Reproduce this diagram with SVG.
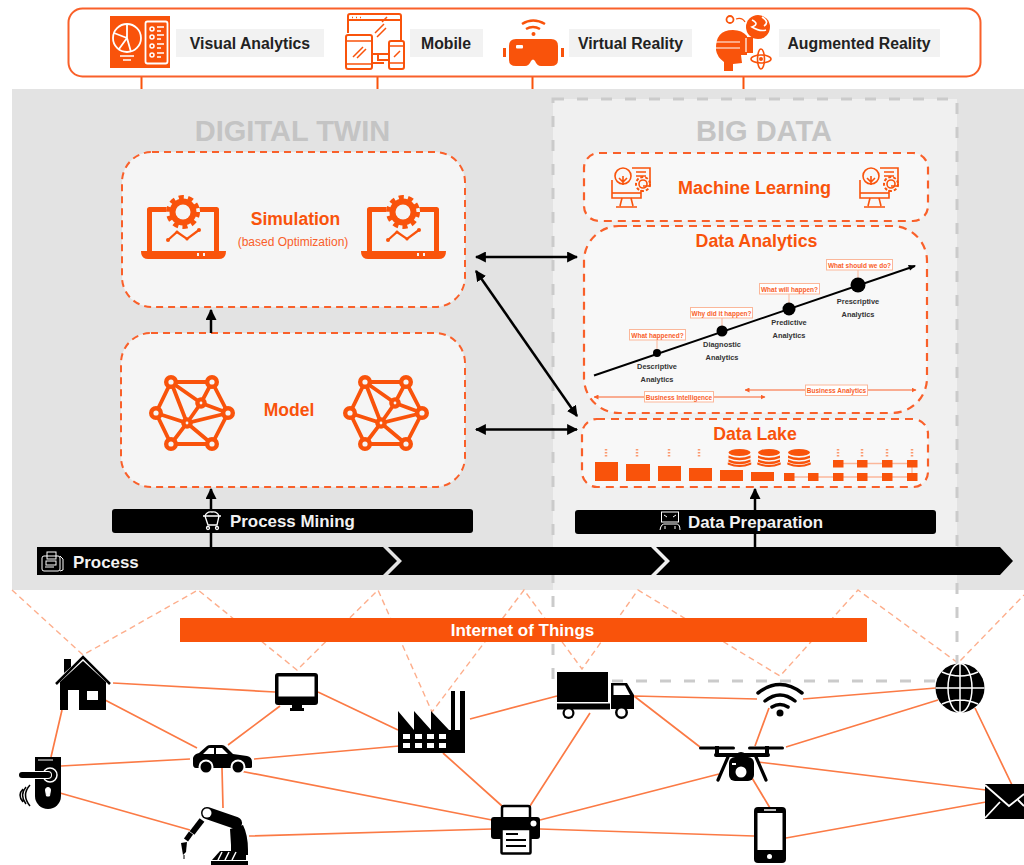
<svg xmlns="http://www.w3.org/2000/svg" xmlns:xlink="http://www.w3.org/1999/xlink" width="1024" height="865" viewBox="0 0 1024 865">
<style>
text{font-family:"Liberation Sans",Arial,sans-serif}
.o{fill:#f9530b}.k{fill:#000}.w{fill:#fff}
.ln{fill:none;stroke:#f9530b}
.wl{fill:none;stroke:#fff}
.kl{fill:none;stroke:#000}
.box{fill:#f5f5f5;stroke:#f9602a;stroke-width:2;stroke-dasharray:7 5}
.boxd{fill:#f8f8f8;stroke:#f9602a;stroke-width:2.2;stroke-dasharray:8 6}
.lab{fill:#f2f2f2}
.labt{font-size:15.800px;font-weight:700;fill:#222;text-anchor:middle}
.h{font-weight:700;fill:#f9530b;text-anchor:middle}
.t{font-size:29px;font-weight:700;fill:#c4c4c4;text-anchor:middle}
.bt{font-size:16.900px;font-weight:700;fill:#f2f2f2}
.q{fill:#fff;stroke:#fbb79a;stroke-width:1}
.qt{font-size:6.500px;font-weight:700;fill:#f9602a;text-anchor:middle}
.at{font-size:7.400px;font-weight:700;fill:#333;text-anchor:middle}
.e{stroke:#fb7a45;stroke-width:1.700;fill:none}
.d{stroke:#fdae8c;stroke-width:1.400;stroke-dasharray:6 4;fill:none}
.lake{fill:#f9530b}
.ll{stroke:#fbb79a;stroke-width:1.300;fill:none}
.ld{stroke:#fb9a70;stroke-width:2.500;stroke-dasharray:1.500 1.500;fill:none}
</style>
<defs>
<marker id="ahb" viewBox="0 0 10 10" refX="9" refY="5" markerWidth="11" markerHeight="11" markerUnits="userSpaceOnUse" orient="auto-start-reverse"><path d="M0 0L10 5L0 10Z" fill="#000"/></marker>
<marker id="ao" viewBox="0 0 10 10" refX="9" refY="5" markerWidth="5" markerHeight="5" markerUnits="userSpaceOnUse" orient="auto-start-reverse"><path d="M0 0L10 5L0 10Z" fill="#f9602a"/></marker>
<symbol id="laptop" overflow="visible">
<path class="ln" stroke-width="5" stroke-linejoin="round" d="M149.500 252V209.500H216.500V252"/>
<path class="o" d="M141 251H226Q226 259 219 259H148Q141 259 141 251Z"/>
<circle cx="183" cy="212" r="17" fill="#f5f5f5"/>
<circle class="o" cx="183" cy="212" r="13.500"/>
<circle cx="183" cy="212" r="14.500" fill="none" stroke="#f9530b" stroke-width="5" stroke-dasharray="5 4.100"/>
<circle cx="183" cy="212" r="7.500" fill="#f5f5f5"/>
<polyline class="ln" stroke-width="2.200" points="168,240 177,232 187,239 199,230"/>
<circle class="o" cx="168" cy="240" r="2"/><circle class="o" cx="199" cy="230" r="2"/>
<circle class="o" cx="177" cy="232" r="1.500"/><circle class="o" cx="187" cy="239" r="1.500"/>
<path d="M197 253h2v3h-2zM203 253h2v3h-2z" fill="#f5f5f5"/>
</symbol>
<symbol id="net" overflow="visible">
<path class="ln" stroke-width="3.800" d="M171 382H212L228 413L212 444H171L156 413ZM171 382L187 423L212 444M171 382L201 403L212 382M201 403L228 413M201 403L187 423L171 444M156 413L187 423L228 413"/>
<g fill="#f5f5f5" stroke="#f9530b" stroke-width="4.400">
<circle cx="171" cy="382" r="4.800"/><circle cx="212" cy="382" r="4.800"/><circle cx="156" cy="413" r="4.800"/><circle cx="228" cy="413" r="4.800"/><circle cx="171" cy="444" r="4.800"/><circle cx="212" cy="444" r="4.800"/><circle cx="201" cy="403" r="3.600"/><circle cx="187" cy="423" r="3.600"/>
</g>
</symbol>
<symbol id="ml" overflow="visible">
<g class="ln" stroke-width="1.600" fill="none">
<circle cx="623" cy="176" r="8"/>
<path d="M623 176v9M619 178l4 4 4-4"/>
<path d="M632 168H650V186H643"/>
<path d="M636 172h10M636 176h10"/>
<path d="M612 180V198H641V190"/>
<path d="M612 193H641"/>
<path d="M622 198l-2 8M631 198l2 8M616 207H637"/>
<circle cx="643" cy="184" r="4"/>
<circle cx="643" cy="184" r="7" stroke-dasharray="3 2" stroke-width="2"/>
</g>
</symbol>
<symbol id="db" overflow="visible">
<g class="lake">
<ellipse cx="0" cy="3.500" rx="11" ry="3.500"/>
<path d="M-11 6.500Q0 11 11 6.500V9Q0 13.500-11 9Z"/>
<path d="M-11 10.500Q0 15 11 10.500V13Q0 17.500-11 13Z"/>
<path d="M-11 14.500Q0 19 11 14.500V15Q0 19.500-11 15Z" stroke="#f9530b" stroke-width="1.500"/>
</g>
</symbol>
</defs>
<rect width="1024" height="865" fill="#fff"/>

<g id="band">
<rect x="12" y="89" width="1012" height="501" fill="#e3e3e3"/>
<rect x="553" y="99" width="404" height="491" fill="#f0f0f0"/>
</g>
<g id="top-connectors"><path class="ln" stroke-width="2" d="M141.500 77V89M377.500 77V89M532.500 77V89M743.500 77V89"/></g>
<g id="iot-dashes">
<polyline class="d" points="12,590 83,655 198,590 297,670 378,590 432,712 524,590 582,669 638,590 780,676 858,590 958,663 1024,595"/>
</g>
<rect id="big-data-frame" x="553" y="99" width="404" height="582" fill="none" stroke="#cbcbcb" stroke-width="3" stroke-dasharray="11 13"/>

<g id="top-bar">
<rect x="68.500" y="8.500" width="912" height="68" rx="14" fill="#fff" stroke="#f9602a" stroke-width="2"/>
</g>
<g id="visual-analytics">
<rect class="o" x="110" y="16" width="60" height="52"/>
<circle class="wl" stroke-width="1.800" cx="127" cy="38" r="14"/>
<path class="wl" stroke-width="1.800" d="M127 24L127 38L114 33M127 38L119 49M127 38L131 52"/>
<path class="wl" stroke-width="1.500" d="M120 56h14M123 60h8"/>
<rect class="wl" stroke-width="1.800" x="145.500" y="21.500" width="22" height="42" rx="2"/>
<g class="wl" stroke-width="1.500"><circle cx="152" cy="29" r="2"/><circle cx="152" cy="37" r="2"/><circle cx="152" cy="46" r="2"/><circle cx="152" cy="55" r="2"/><path d="M157 27h7M157 31h4M157 35h7M157 39h4M157 44h7M157 48h4M157 53h7M157 57h4"/></g>
<rect class="lab" x="176" y="29" width="148" height="28"/>
<text class="labt" x="250" y="48.500">Visual Analytics</text>
</g>
<g id="mobile">
<path class="ln" stroke-width="2" d="M348 33V16Q348 14 350 14H399Q401 14 401 16V40M348 20H401M373 54H389M378 54V60H389M384 63H372"/>
<path class="ln" stroke-width="1.500" d="M352 17.500h1M356 17.500h1M360 17.500h1M375 33l9-9M386 28l-9 9M382 22l5-5"/>
<rect class="ln" stroke-width="2" x="346" y="35" width="26" height="34" rx="2"/>
<path class="ln" stroke-width="1.500" d="M346 41H372M346 64H372M353 57l10-10M357 58l9-9"/>
<rect class="ln" stroke-width="2" x="389" y="41" width="15" height="28" rx="2"/>
<path class="ln" stroke-width="1.500" d="M389 46H404M389 63H404M394 57l6-6"/>
<rect class="lab" x="410" y="29" width="73" height="28"/>
<text class="labt" x="446" y="48.500">Mobile</text>
</g>
<g id="virtual-reality">
<path class="o" d="M516 39H551Q558 39 558 46V60Q558 66 551 66H541Q537 66 535 61Q533 58 531 61Q529 66 525 66H516Q509 66 509 60V46Q509 39 516 39Z"/>
<rect class="w" x="516" y="45" width="7" height="3.500" rx="1"/>
<path class="o" d="M503 48h3v9h-3zM561 48h3v9h-3z"/>
<path class="ln" stroke-width="2.500" d="M522 24Q533 17 545 24M526 29Q533 25 540 29"/>
<circle class="o" cx="533.500" cy="34" r="2"/>
<rect class="lab" x="569" y="29" width="123" height="28"/>
<text class="labt" x="630.500" y="48.500">Virtual Reality</text>
</g>
<g id="augmented-reality">
<path class="o" d="M716 50Q715 30 733 30Q742 30 747 36V55H741L742 63L733 64V71H724V62Q717 57 716 50Z"/>
<rect class="o" x="740" y="37" width="13" height="16"/>
<path class="wl" stroke-width="1.200" d="M716 42H740M716 48H740M746 38V52"/>
<circle class="o" cx="758" cy="27" r="12"/>
<path class="wl" stroke-width="1.600" d="M752 20Q760 24 752 27Q760 32 766 30M762 17Q770 22 764 26"/>
<circle class="ln" stroke-width="1.800" cx="730" cy="19.500" r="3.500"/>
<path class="ln" stroke-width="1.300" d="M736 19Q742 17 745 22"/>
<ellipse class="ln" stroke-width="1.600" cx="761" cy="59" rx="10" ry="4"/>
<ellipse class="ln" stroke-width="1.600" cx="761" cy="59" rx="3.500" ry="10"/>
<circle class="o" cx="761" cy="59" r="2"/>
<rect class="lab" x="779" y="29" width="161" height="28"/>
<text class="labt" x="859" y="48.500">Augmented Reality</text>
</g>

<text class="t" x="292.500" y="141">DIGITAL TWIN</text>
<text class="t" x="764" y="141">BIG DATA</text>

<g id="simulation">
<rect class="box" x="122" y="152" width="343" height="155" rx="30"/>
<use xlink:href="#laptop" href="#laptop"/>
<use xlink:href="#laptop" href="#laptop" x="220"/>
<text class="h" x="295.500" y="225" font-size="17.500">Simulation</text>
<text x="293" y="246" font-size="12" fill="#f9602a" text-anchor="middle">(based Optimization)</text>
</g>
<g id="model">
<rect class="box" x="121" y="333" width="344" height="154" rx="30"/>
<use xlink:href="#net" href="#net"/>
<use xlink:href="#net" href="#net" x="194"/>
<text class="h" x="289" y="416" font-size="17.500">Model</text>
</g>
<g id="machine-learning">
<rect class="boxd" x="584" y="153" width="344" height="68" rx="15"/>
<use xlink:href="#ml" href="#ml"/>
<use xlink:href="#ml" href="#ml" x="248"/>
<text class="h" x="754.500" y="194" font-size="18">Machine Learning</text>
</g>
<g id="data-analytics">
<rect class="boxd" x="584" y="226" width="343" height="187" rx="35"/>
<text class="h" x="756.500" y="247" font-size="17.800">Data Analytics</text>
<path d="M594 375.500L915 266" stroke="#000" stroke-width="2"/>
<path d="M916 265.500l-8 -.5 2 5.500z" fill="#000"/>
<path d="M657 353V340M722 331V318M789 309V294M858 285V269" stroke="#fbb79a" stroke-width="1" fill="none"/>
<circle class="k" cx="657" cy="353" r="4"/><circle class="k" cx="722" cy="331" r="5.500"/><circle class="k" cx="789" cy="309" r="6.500"/><circle class="k" cx="858" cy="285" r="7.500"/>
<rect class="q" x="629.500" y="329.500" width="56" height="10.500"/><text class="qt" x="657.500" y="337.500">What happened?</text>
<rect class="q" x="690.500" y="307.500" width="62" height="10.500"/><text class="qt" x="721.500" y="315.500">Why did it happen?</text>
<rect class="q" x="759.500" y="283.500" width="60" height="10.500"/><text class="qt" x="789.500" y="291.500">What will happen?</text>
<rect class="q" x="826.500" y="259.500" width="66" height="10.500"/><text class="qt" x="859.500" y="267.500">What should we do?</text>
<text class="at" x="657" y="369">Descriptive</text><text class="at" x="657" y="382">Analytics</text>
<text class="at" x="722" y="347">Diagnostic</text><text class="at" x="722" y="360">Analytics</text>
<text class="at" x="789" y="325">Predictive</text><text class="at" x="789" y="338">Analytics</text>
<text class="at" x="858" y="304">Prescriptive</text><text class="at" x="858" y="317">Analytics</text>
<path d="M594 397H765" stroke="#f9602a" stroke-width="1.200" marker-start="url(#ao)" marker-end="url(#ao)"/>
<path d="M745 390H916" stroke="#f9602a" stroke-width="1.200" marker-start="url(#ao)" marker-end="url(#ao)"/>
<rect class="q" x="644.500" y="391.500" width="69" height="10.500"/><text class="qt" x="679" y="399.500">Business Intelligence</text>
<rect class="q" x="805.500" y="385" width="62" height="10.500"/><text class="qt" x="836.500" y="393">Business Analytics</text>
</g>
<g id="data-lake">
<rect class="boxd" x="582" y="419" width="346" height="68" rx="15"/>
<text class="h" x="755" y="440" font-size="17.700">Data Lake</text>
<path class="ld" d="M606 449V457M637 449V457M669 449V457M699 449V457M838 449V457M862 449V457M887 449V457M912 449V457"/>
<rect class="lake" x="595" y="462" width="23" height="19"/><rect class="lake" x="626" y="464" width="24" height="17"/><rect class="lake" x="658" y="466" width="23" height="15"/><rect class="lake" x="689" y="468" width="23" height="13"/><rect class="lake" x="720" y="470" width="23" height="11"/><rect class="lake" x="751" y="472" width="23" height="9"/>
<use xlink:href="#db" href="#db" x="739.500" y="449"/><use xlink:href="#db" href="#db" x="769" y="449"/><use xlink:href="#db" href="#db" x="799" y="449"/>
<path class="ll" d="M789 477H912M838 463.500H912M912 463.500V477"/>
<g class="lake"><rect x="784" y="473" width="10.500" height="8"/><rect x="808" y="473" width="10.500" height="8"/><rect x="833" y="473" width="10.500" height="8"/><rect x="857" y="473" width="10.500" height="8"/><rect x="882" y="473" width="10.500" height="8"/><rect x="907" y="473" width="10.500" height="8"/><rect x="833" y="460" width="10.500" height="7.500"/><rect x="857" y="460" width="10.500" height="7.500"/><rect x="882" y="460" width="10.500" height="7.500"/><rect x="907" y="460" width="10.500" height="7.500"/></g>
</g>

<g id="connectors">
<path class="kl" stroke-width="2.500" d="M211 333V310" marker-end="url(#ahb)"/>
<path class="kl" stroke-width="2.500" d="M211 548V489" marker-end="url(#ahb)"/>
<path class="kl" stroke-width="2.500" d="M755 548V489" marker-end="url(#ahb)"/>
<path class="kl" stroke-width="2.500" d="M476 257H577" marker-start="url(#ahb)" marker-end="url(#ahb)"/>
<path class="kl" stroke-width="2.500" d="M476 429.500H577" marker-start="url(#ahb)" marker-end="url(#ahb)"/>
<path class="kl" stroke-width="2.500" d="M476 271L577 416" marker-start="url(#ahb)" marker-end="url(#ahb)"/>
</g>

<g id="process-mining">
<rect class="k" x="112" y="509" width="361" height="24" rx="3"/>
<g class="wl" stroke-width="1.300"><path d="M203 516H221M205 516L208 525H217L219 516"/><path d="M205 516Q207 511 212 512Q217 511 219 516"/><circle cx="208" cy="528" r="1.500"/><circle cx="217" cy="528" r="1.500"/></g>
<text class="bt" x="230" y="526.500">Process Mining</text>
</g>
<g id="data-preparation">
<rect class="k" x="575" y="510" width="361" height="24" rx="3"/>
<g class="wl" stroke-width="1"><rect x="661.500" y="512" width="17" height="10"/><path d="M664 515l3 2M676 515l-3 2M660 530Q661 523 666 524H675Q680 523 680 530M665 526v3M675 526v3"/></g>
<text class="bt" x="688" y="527.500">Data Preparation</text>
</g>
<g id="process">
<path class="k" d="M37 547H383L397 561L383 575H37Z"/>
<path class="k" d="M388 547H651L665 561L651 575H388L402 561Z"/>
<path class="k" d="M656 547H1000L1013 561L1000 575H656L670 561Z"/>
<g class="wl" stroke-width="1"><rect x="42" y="556" width="18" height="15" rx="2"/><rect x="47" y="552" width="9" height="7"/><rect x="46" y="561" width="10" height="4"/><path d="M60 556L63 559V570L60 571M45 567h9"/></g>
<text class="bt" x="73" y="567.500">Process</text>
</g>
<g id="internet-of-things">
<rect class="o" x="180" y="618" width="687" height="24"/>
<text x="522.500" y="635.500" font-size="17" font-weight="700" fill="#fff" text-anchor="middle">Internet of Things</text>
</g>

<g id="iot-connectors">
<path class="e" d="M113 683L275 692M105 700L197 748M62 710L51 757M280 706L228 745M318 692L398 730M190 759L61 766M254 759L399 746M222 768L223 808M240 771L492 820M60 793L190 830M249 836L492 829M443 753L502 806M470 719L557 696M590 713L530 806M634 696L757 699M634 696L700 747M803 699L936 688M769 708L755 746M786 747L938 700M758 762L986 790M719 774L540 820M752 778L770 808M540 829L754 836M786 838L986 802M975 708L1012 785"/>
</g>
<g id="house">
<path class="k" d="M60 682L83 661L106 682V710H79V690H68V710H60Z"/>
<rect class="w" x="87" y="691" width="11" height="9"/>
<path class="k" d="M64 659H71V667L64 673Z"/>
<path class="kl" stroke-width="2.500" d="M56 684L83 657L110 684"/>
</g>
<g id="monitor">
<rect class="k" x="275" y="673" width="43" height="32" rx="3"/>
<rect class="w" x="278.500" y="676.500" width="36" height="20"/>
<path class="k" d="M292 705H302V708H304V711H290V708H292Z"/>
</g>
<g id="factory">
<path class="k" d="M398 711L414 730V711L431 730V711L449 730H451V691H455V730H460V691H465V753H398Z"/>
<g class="w"><rect x="403" y="734" width="7" height="5"/><rect x="415" y="734" width="7" height="5"/><rect x="427" y="734" width="7" height="5"/><rect x="439" y="734" width="7" height="5"/><rect x="403" y="743" width="7" height="5"/><rect x="415" y="743" width="7" height="5"/><rect x="427" y="743" width="7" height="5"/><rect x="439" y="743" width="7" height="5"/></g>
</g>
<g id="car">
<path class="k" d="M193 764V758Q194 754 199 753L207 746Q208 745 211 745H222Q224 745 226 747L233 754L247 756Q252 757 252 762V767Q252 768 250 768H196Q193 768 193 764Z"/>
<path class="w" d="M203 754L209 748H214V754ZM216 748H222L228 754H216Z"/>
<circle class="w" cx="206" cy="767" r="7.500"/><circle class="w" cx="238" cy="767" r="7.500"/>
<circle class="k" cx="206" cy="767" r="5.500"/><circle class="k" cx="238" cy="767" r="5.500"/>
</g>
<g id="smart-lock">
<path class="k" d="M35 757H61V796A13 13 0 0 1 35 796Z"/>
<path d="M38 760H53" stroke="#fff" stroke-width="1"/>
<circle stroke="#fff" stroke-width="1.500" cx="50" cy="775" r="7" fill="#000"/>
<rect x="19" y="771" width="33" height="8" rx="4" fill="#fff"/>
<rect class="k" x="19" y="772" width="32" height="6" rx="3"/>
<path d="M45.500 790a2.500 2.500 0 0 1 5 0 l-1 6h-3z" fill="#fff" stroke="#fff"/>
<path class="kl" stroke-width="1.500" d="M30 785Q21 795 30 806M26 787Q19 795 26 804M23 789Q17 795 23 802"/>
</g>
<g id="robot">
<path class="kl" stroke-width="12" stroke-linecap="round" d="M207 813L236 823"/>
<circle class="w" cx="207" cy="813" r="4.500"/>
<path class="kl" stroke-width="6" d="M202 820L192 833"/>
<path class="kl" stroke-width="5" d="M191 833L186 840"/>
<path class="k" d="M181 843L187 842L186 852L183 855Z"/>
<path d="M184 855V859" stroke="#000" stroke-width="1"/>
<path class="k" d="M230 829L243 825Q248 835 248 850V855H231V845Z"/>
<path class="k" d="M220 851H246V860H212Z"/>
<path d="M222 852L218 860M229 852L225 860M236 852L232 860" stroke="#fff" stroke-width="1.500"/>
<rect class="k" x="211" y="861" width="37" height="4"/>
</g>
<g id="printer">
<rect class="w" x="502" y="806" width="28" height="14" stroke="#000" stroke-width="2.500" rx="2"/>
<rect class="k" x="491" y="817" width="49" height="22" rx="3"/>
<circle class="w" cx="533.500" cy="823.500" r="3"/>
<rect class="w" x="501.500" y="829" width="29" height="24.500" stroke="#000" stroke-width="2.500" rx="1"/>
<path class="kl" stroke-width="2" d="M506 834h12M506 840h20M506 846h20"/>
</g>
<g id="truck">
<rect class="k" x="557" y="672" width="51" height="30"/>
<rect class="k" x="557" y="703.500" width="53" height="6"/>
<path class="k" d="M611 683H627L634 695V709H611Z"/>
<path class="w" d="M613.500 685.500H625L630 695H613.500Z"/>
<circle class="k" cx="568.500" cy="713" r="6"/><circle class="w" cx="568.500" cy="713" r="3.800"/>
<circle class="k" cx="621.500" cy="712.500" r="6.500"/><circle class="w" cx="621.500" cy="712.500" r="4"/>
</g>
<g id="wifi">
<path class="kl" stroke-width="3.500" stroke-linecap="round" d="M758 693Q780 676 802 693M765 701Q780 689 795 701M772 707Q780 702 788 707"/>
<circle class="k" cx="780" cy="713" r="3.500"/>
</g>
<g id="globe">
<circle class="k" cx="960" cy="688" r="24.500"/>
<g class="wl" stroke-width="1.500"><path d="M935.500 688H984.500M960 663.500V712.500M942 672Q960 680 978 672M942 704Q960 696 978 704"/><ellipse cx="960" cy="688" rx="12" ry="24.500"/></g>
</g>
<g id="drone">
<rect class="k" x="699" y="746.500" width="36" height="3" rx="1.500"/><rect class="k" x="748" y="746.500" width="36" height="3" rx="1.500"/>
<path class="k" d="M715 746h4v8h-4zM765 746h4v8h-4z"/>
<path class="kl" stroke-width="4" d="M716 755H768" stroke-linecap="round"/>
<path class="kl" stroke-width="3.200" stroke-linecap="round" d="M728 757L718 780M756 757L766 780"/>
<rect class="k" x="729" y="757" width="25" height="24" rx="6"/>
<circle class="k" cx="741" cy="758" r="6"/>
<circle class="w" cx="741" cy="772" r="5.500"/>
<rect class="w" x="732" y="763" width="4" height="2"/>
</g>
<g id="phone">
<rect class="k" x="754" y="807" width="32" height="56" rx="4"/>
<rect class="w" x="757.500" y="813" width="25" height="37"/>
<path stroke="#fff" stroke-width="1.500" d="M764 810H776"/>
<circle class="w" cx="769.500" cy="856.500" r="2.500"/>
</g>
<g id="envelope">
<rect class="k" x="985" y="784" width="39" height="35"/>
<path class="wl" stroke-width="1.800" d="M985 785L1009 806L1024 794M985 818L1000 802M1024 806L1018 800"/>
</g>
</svg>
